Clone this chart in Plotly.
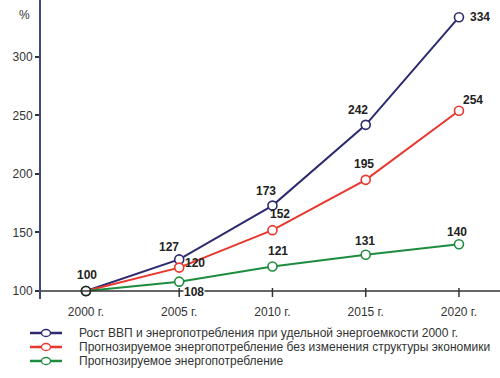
import plotly.graph_objects as go

years = [2000, 2005, 2010, 2015, 2020]
year_labels = ["2000 г.", "2005 г.", "2010 г.", "2015 г.", "2020 г."]
gdp_growth = [100, 127, 173, 242, 334]
energy_no_change = [100, 120, 152, 195, 254]
energy_forecast = [100, 108, 121, 131, 140]
series_names = [
    "Рост ВВП и энергопотребления при удельной энергоемкости 2000 г.",
    "Прогнозируемое энергопотребление без изменения структуры экономики",
    "Прогнозируемое энергопотребление",
]
y_ticks = [100, 150, 200, 250, 300]

colors = ["#2d2a70", "#e8372c", "#1e8c3e"]
series = [gdp_growth, energy_no_change, energy_forecast]

# label offsets (px) for each point of each series
offsets = [
    [(1, 16), (-10, 12), (-6, 15), (-8, 15), (21, 0)],
    [None, (16, 5), (8, 16), (-2, 16), (14, 11)],
    [None, (15, -10), (6, 15), (-1, 14), (-2, 12)],
]

fig = go.Figure()
for vals, col, name in zip(series, colors, series_names):
    fig.add_trace(go.Scatter(
        x=years, y=vals, mode="lines+markers", name=name,
        line=dict(color=col, width=2),
        marker=dict(symbol="circle", size=9, color="white", line=dict(color=col, width=1.6)),
        showlegend=False, cliponaxis=False,
    ))
# redraw 2000 point marker in dark
fig.add_trace(go.Scatter(x=[years[0]], y=[gdp_growth[0]], mode="markers",
                         marker=dict(symbol="circle", size=9, color="white", line=dict(color="#222", width=1.6)),
                         showlegend=False, cliponaxis=False))

anns = []
for si, vals in enumerate(series):
    for i, v in enumerate(vals):
        off = offsets[si][i]
        if off is None:
            continue
        anns.append(dict(x=years[i], y=v, xref="x", yref="y", text=str(v), showarrow=False,
                         xshift=off[0], yshift=off[1],
                         font=dict(family="Liberation Sans, Arial", size=12, color="#222", weight="bold"),
                         bgcolor="white" if (si == 2 and i == 1) else "rgba(0,0,0,0)",
                         borderpad=0))

W, H = 500, 378
L, B = 41, 79
PH = H - B

def px(xp):
    return (xp - L) / (W - L)

def py(yp):
    return (PH - yp) / PH

anns.append(dict(x=px(24), y=py(15), xref="paper", yref="paper", text="%", showarrow=False,
                 xanchor="center", yanchor="middle",
                 font=dict(family="Liberation Sans, Arial", size=12, color="#333")))

shapes = []
# horizontal baseline at 100
shapes.append(dict(type="line", xref="paper", yref="y", x0=0, x1=1, y0=100, y1=100,
                   line=dict(color="#333", width=1.5)))
for yr in years[1:]:
    shapes.append(dict(type="line", xref="x", yref="y", x0=yr, x1=yr, y0=102.6, y1=94.9,
                       line=dict(color="#333", width=1.5)))

legend_y = [333, 347, 361]
for ly, col, name in zip(legend_y, colors, series_names):
    shapes.append(dict(type="line", xref="paper", yref="paper", x0=px(30), x1=px(62), y0=py(ly), y1=py(ly),
                       line=dict(color=col, width=2.5)))
    shapes.append(dict(type="circle", xref="paper", yref="paper", xsizemode="pixel", ysizemode="pixel",
                       xanchor=px(46), yanchor=py(ly), x0=-4.5, x1=4.5, y0=-3.5, y1=3.5,
                       fillcolor="white", line=dict(color=col, width=1.3)))
    anns.append(dict(x=px(77), y=py(ly), xref="paper", yref="paper", text=name, showarrow=False,
                     xanchor="left", yanchor="middle",
                     font=dict(family="Liberation Sans, Arial", size=12, color="#333")))

fig.update_layout(
    width=W, height=H,
    margin=dict(l=L, r=0, t=0, b=B),
    paper_bgcolor="white", plot_bgcolor="white",
    xaxis=dict(range=[1997.59, 2022.2], tickvals=years, ticktext=year_labels, showgrid=False,
               zeroline=False, showline=False, ticks="", ticklabelstandoff=4,
               tickfont=dict(family="Liberation Sans, Arial", size=12, color="#333")),
    yaxis=dict(range=[93.16, 348.7], tickvals=y_ticks, showgrid=False, zeroline=False,
               showline=True, linecolor="#3c4a80", linewidth=2,
               ticks="outside", ticklen=4, tickcolor="#333", tickwidth=1.5,
               tickfont=dict(family="Liberation Sans, Arial", size=12, color="#333")),
    annotations=anns, shapes=shapes,
)

fig.write_html("out.html", config={"displayModeBar": False},
               post_script="document.body.style.margin='0';")
